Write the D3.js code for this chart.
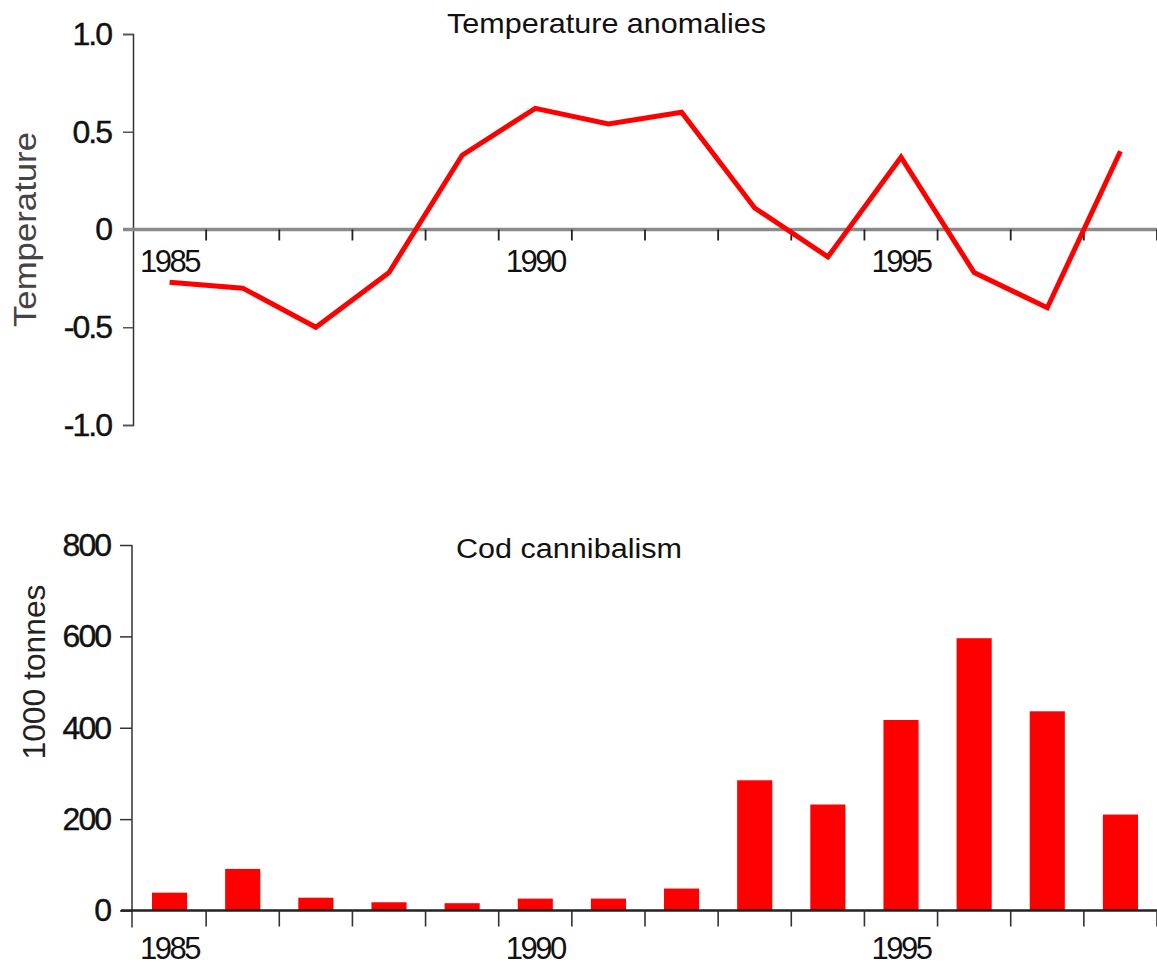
<!DOCTYPE html>
<html>
<head>
<meta charset="utf-8">
<script src="https://cdn.jsdelivr.net/npm/d3@7"></script>
<style>
  html, body { margin: 0; padding: 0; background: #fff; }
  svg { display: block; font-family: "Liberation Sans", Arial, sans-serif; }
</style>
</head>
<body>
<svg id="chart" width="1157" height="966"></svg>
<script>
// Years shared by both panels
const years = [1985, 1986, 1987, 1988, 1989, 1990, 1991, 1992, 1993, 1994, 1995, 1996, 1997, 1998];
// Temperature anomalies (degrees C)
const temperature = [-0.27, -0.30, -0.50, -0.22, 0.38, 0.62, 0.54, 0.60, 0.11, -0.14, 0.37, -0.22, -0.40, 0.40];
// Cod cannibalism (1000 tonnes)
const cannibalism = [39, 91, 28, 18, 16, 26, 26, 48, 285, 232, 417, 596, 436, 210];
// Tick labels
const yearLabels = [1985, 1990, 1995];
const tempTicks = [-1.0, -0.5, 0, 0.5, 1.0];
const tempTickLabels = ["-1.0", "-0.5", "0", "0.5", "1.0"];
const codTicks = [0, 200, 400, 600, 800];

const svg = d3.select("#chart");
const red = "#ff0000";

// Shared year band scale: ticks on band edges, labels on band centres
const x = d3.scaleBand().domain(years).range([133, 1157]).padding(0);
const step = x.step();
const xc = d => x(d) + step / 2;

function styleTickText(sel) {
  sel.attr("font-size", 32).attr("fill", "#111")
    .attr("letter-spacing", "-2px")
    .attr("stroke", "#111").attr("stroke-width", 0.4)
    .attr("font-family", "Liberation Sans, Arial, sans-serif");
}

/* ---------- Top panel: temperature anomalies ---------- */
const yT = d3.scaleLinear().domain([-1, 1]).range([425, 34]);

// Y axis
const gyT = svg.append("g").attr("transform", "translate(133,0)")
  .call(d3.axisLeft(yT).tickValues(tempTicks)
    .tickFormat((d, i) => tempTickLabels[i]).tickSize(10).tickPadding(12));
gyT.select(".domain").attr("stroke", "#333").attr("stroke-width", 1.5);
gyT.selectAll(".tick line").attr("stroke", "#555").attr("stroke-width", 1.5);
styleTickText(gyT.selectAll(".tick text"));

// Zero line
svg.append("line").attr("x1", 123).attr("x2", 1157)
  .attr("y1", yT(0)).attr("y2", yT(0))
  .attr("stroke", "#8a8a8a").attr("stroke-width", 3.5);

// Year ticks at band edges
svg.append("g").selectAll("line").data(years).join("line")
  .attr("x1", d => x(d) + step).attr("x2", d => x(d) + step)
  .attr("y1", yT(0)).attr("y2", yT(0) + 11)
  .attr("stroke", "#222").attr("stroke-width", 1.8);

// Year labels
svg.append("g").selectAll("text").data(yearLabels).join("text")
  .attr("x", d => xc(d)).attr("y", yT(0) + 42)
  .attr("text-anchor", "middle").attr("font-size", 31).attr("letter-spacing", "-2.5px")
  .attr("fill", "#111").text(d => d);

// Anomaly line
const line = d3.line().x((d, i) => xc(years[i])).y(d => yT(d));
svg.append("path").datum(temperature)
  .attr("d", line).attr("fill", "none")
  .attr("stroke", red).attr("stroke-width", 5).attr("stroke-linejoin", "miter");

// Titles
svg.append("text").attr("x", 447).attr("y", 33)
  .attr("font-size", 28).attr("fill", "#111")
  .attr("textLength", 319).attr("lengthAdjust", "spacingAndGlyphs")
  .text("Temperature anomalies");
svg.append("text")
  .attr("transform", `translate(36,${yT(0)}) rotate(-90)`)
  .attr("text-anchor", "middle").attr("font-size", 31).attr("fill", "#444")
  .attr("textLength", 195).attr("lengthAdjust", "spacingAndGlyphs")
  .text("Temperature");

/* ---------- Bottom panel: cod cannibalism ---------- */
const yC = d3.scaleLinear().domain([0, 800]).range([910.5, 545]);

// Bars
const barW = step * 0.48;
svg.append("g").selectAll("rect").data(cannibalism).join("rect")
  .attr("x", (d, i) => xc(years[i]) - barW / 2)
  .attr("width", barW)
  .attr("y", d => yC(d))
  .attr("height", d => yC(0) - yC(d))
  .attr("fill", red);

// Y axis
const gyC = svg.append("g").attr("transform", "translate(132,0)")
  .call(d3.axisLeft(yC).tickValues(codTicks).tickSize(12).tickPadding(10));
gyC.select(".domain").remove();
svg.append("line").attr("x1", 132).attr("x2", 132)
  .attr("y1", yC(800)).attr("y2", yC(0) + 17)
  .attr("stroke", "#333").attr("stroke-width", 1.5);
gyC.selectAll(".tick line").attr("stroke", "#333").attr("stroke-width", 1.5);
styleTickText(gyC.selectAll(".tick text"));

// Baseline
svg.append("line").attr("x1", 121).attr("x2", 1157)
  .attr("y1", yC(0)).attr("y2", yC(0))
  .attr("stroke", "#222").attr("stroke-width", 2.5);

// Year ticks
svg.append("g").selectAll("line").data(years).join("line")
  .attr("x1", d => x(d) + step).attr("x2", d => x(d) + step)
  .attr("y1", yC(0)).attr("y2", yC(0) + 16)
  .attr("stroke", "#333").attr("stroke-width", 1.6);

// Year labels
svg.append("g").selectAll("text").data(yearLabels).join("text")
  .attr("x", d => xc(d)).attr("y", yC(0) + 48)
  .attr("text-anchor", "middle").attr("font-size", 31).attr("letter-spacing", "-2.5px")
  .attr("fill", "#111").text(d => d);

// Titles
svg.append("text").attr("x", 456).attr("y", 558)
  .attr("font-size", 27).attr("fill", "#111")
  .attr("textLength", 226).attr("lengthAdjust", "spacingAndGlyphs")
  .text("Cod cannibalism");
svg.append("text")
  .attr("transform", `translate(45,672) rotate(-90)`)
  .attr("text-anchor", "middle").attr("font-size", 31).attr("fill", "#222")
  .attr("textLength", 175).attr("lengthAdjust", "spacingAndGlyphs")
  .text("1000  tonnes");
</script>
</body>
</html>
